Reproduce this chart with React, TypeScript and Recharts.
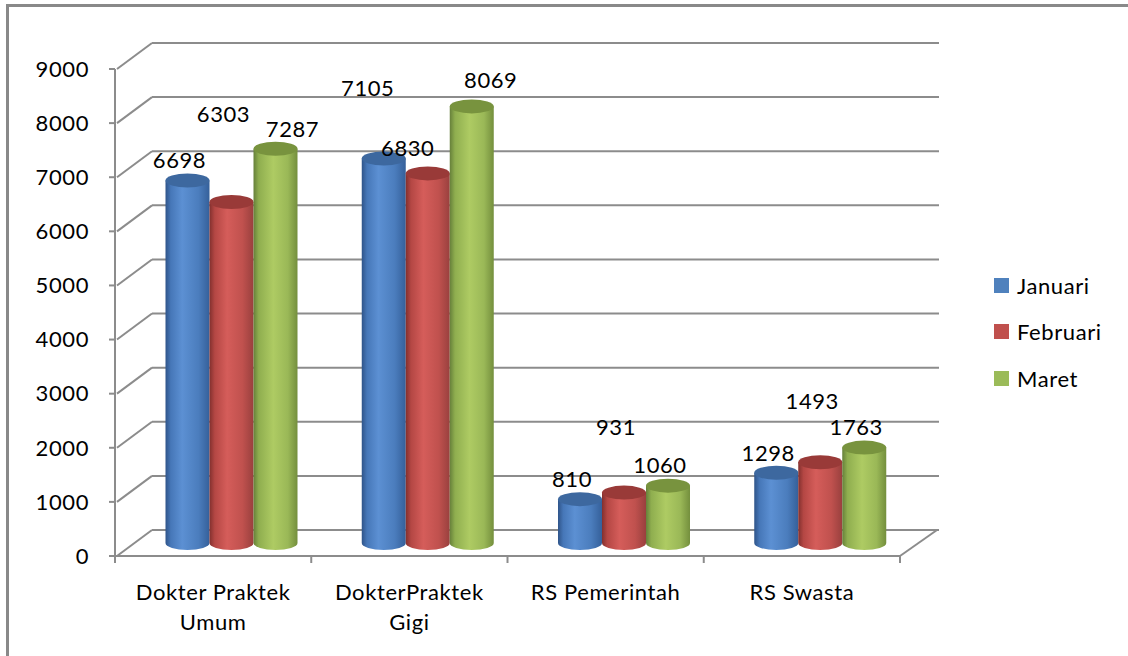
import React from "react";
import { BarChart, Bar, XAxis, YAxis, CartesianGrid, LabelList, Legend } from "recharts";

const CATEGORIES = ["Dokter Praktek Umum", "DokterPraktek Gigi", "RS Pemerintah", "RS Swasta"];
const CATEGORY_LINES = [["Dokter Praktek", "Umum"], ["DokterPraktek", "Gigi"], ["RS Pemerintah"], ["RS Swasta"]];
const JANUARI = [6698, 7105, 810, 1298];
const FEBRUARI = [6303, 6830, 931, 1493];
const MARET = [7287, 8069, 1060, 1763];
const Y_TICKS = [0, 1000, 2000, 3000, 4000, 5000, 6000, 7000, 8000, 9000];

// extra label shifts (px) for labels Excel pushed off their default spot
const LABEL_SHIFT: Record<string, [number, number][]> = {
  Januari: [[0, 0], [-8, -50], [0, 0], [0, 0]],
  Februari: [[0, -68], [-12, -5], [0, -45], [0, -41]],
  Maret: [[25, 0], [27, -6], [0, 0], [0, 0]],
};

const data = CATEGORIES.map((name, i) => ({
  name,
  Januari: JANUARI[i],
  Februari: FEBRUARI[i],
  Maret: MARET[i],
}));

const W = 1128;
const H = 656;
const PLOT_LEFT = 115;
const PLOT_RIGHT = 900;
const PLOT_TOP = 69;
const PLOT_BOTTOM = 556;
const BAND = (PLOT_RIGHT - PLOT_LEFT) / CATEGORIES.length;

// back wall offset of the 3D box; cylinders stand half way in
const DEPTH_X = 37;
const DEPTH_Y = -26;
const MID_X = DEPTH_X / 2;
const MID_Y = DEPTH_Y / 2;

const FONT = "Lato, 'Open Sans', sans-serif";
const FONT_SIZE = 22;
const SPACING = 0.6;
const GRID = "#8c8c8c";

const TONES: Record<string, { legend: string; top: string; stops: [number, string][] }> = {
  blue: {
    legend: "#4f81bd",
    top: "#3d689f",
    stops: [[0, "#2f5489"], [0.12, "#4677b8"], [0.38, "#5c90d3"], [0.75, "#4b7dbd"], [1, "#35609a"]],
  },
  red: {
    legend: "#c0504d",
    top: "#993a38",
    stops: [[0, "#82302e"], [0.12, "#b44744"], [0.4, "#d55d5a"], [0.75, "#c0514e"], [1, "#99403e"]],
  },
  green: {
    legend: "#9bbb59",
    top: "#78933e",
    stops: [[0, "#66803a"], [0.12, "#8fae4f"], [0.45, "#aecb63"], [0.78, "#9ab857"], [1, "#748f3d"]],
  },
};

const SERIES = [
  { key: "Januari", tone: "blue" },
  { key: "Februari", tone: "red" },
  { key: "Maret", tone: "green" },
];

const Cylinder = (props: any) => {
  const { x, y, width, height, tone } = props;
  if (width == null || height == null) return null;
  const cx = x + MID_X + width / 2;
  const rx = width / 2;
  const ry = 7;
  const top = y + MID_Y;
  const bottom = y + height + MID_Y;
  const left = x + MID_X;
  const body = `M${left},${top} L${left},${bottom} A${rx},${ry} 0 0 0 ${left + width},${bottom} L${left + width},${top} Z`;
  return (
    <g>
      <path d={body} fill={`url(#cyl-${tone})`} />
      <ellipse cx={cx} cy={top} rx={rx} ry={ry} fill={TONES[tone].top} />
    </g>
  );
};

const makeLabel = (series: string) => (props: any) => {
  const { x, y, width, value, index } = props;
  const [sx, sy] = LABEL_SHIFT[series][index] || [0, 0];
  return (
    <text
      x={x + width / 2 + MID_X - 8 + sx}
      y={y + MID_Y - 20 + sy}
      dy="0.355em"
      textAnchor="middle"
      fontFamily={FONT}
      fontSize={FONT_SIZE}
      letterSpacing={SPACING}
      fill="#000"
    >
      {value}
    </text>
  );
};

// back wall gridline plus the slanted line on the left wall (and floor edge)
const WallLine = (props: any) => {
  const { x1, y1, x2, index } = props;
  return (
    <g key={`wall-${index}`}>
      <line x1={x1 + 2} y1={y1} x2={x1 + DEPTH_X} y2={y1 + DEPTH_Y} stroke={GRID} strokeWidth={2} />
      <line x1={x1 + DEPTH_X} y1={y1 + DEPTH_Y} x2={x2 + DEPTH_X + 2} y2={y1 + DEPTH_Y} stroke={GRID} strokeWidth={2} />
      {Math.abs(y1 - PLOT_BOTTOM) < 1 && (
        <line x1={x2} y1={y1} x2={x2 + DEPTH_X} y2={y1 + DEPTH_Y} stroke={GRID} strokeWidth={2} />
      )}
    </g>
  );
};

const CategoryTick = (props: any) => {
  const { x, index } = props;
  const lines = CATEGORY_LINES[index] || [];
  return (
    <g>
      <line x1={x - BAND / 2} y1={PLOT_BOTTOM} x2={x - BAND / 2} y2={PLOT_BOTTOM + 7} stroke={GRID} strokeWidth={2} />
      {index === CATEGORIES.length - 1 && (
        <line x1={x + BAND / 2} y1={PLOT_BOTTOM} x2={x + BAND / 2} y2={PLOT_BOTTOM + 7} stroke={GRID} strokeWidth={2} />
      )}
      <text
        x={x}
        y={PLOT_BOTTOM + 44}
        textAnchor="middle"
        fontFamily={FONT}
        fontSize={FONT_SIZE}
        letterSpacing={SPACING}
        fill="#000"
      >
        {lines.map((line, i) => (
          <tspan key={i} x={x} dy={i === 0 ? 0 : 30}>
            {line}
          </tspan>
        ))}
      </text>
    </g>
  );
};

const LegendList = (props: any) => {
  const items = [...(props.payload || [])].sort(
    (a: any, b: any) =>
      SERIES.findIndex((s) => s.key === a.value) - SERIES.findIndex((s) => s.key === b.value)
  );
  return (
    <div style={{ fontFamily: FONT, fontSize: FONT_SIZE, letterSpacing: SPACING, color: "#000" }}>
      {items.map((item: any) => (
        <div key={item.value} style={{ display: "flex", alignItems: "center", height: 46.5 }}>
          <span style={{ width: 15, height: 15, background: item.color, marginRight: 8 }} />
          <span>{item.value}</span>
        </div>
      ))}
    </div>
  );
};

export default function App() {
  return (
    <div style={{ position: "absolute", left: 0, top: 0, width: W, height: H, overflow: "hidden", background: "#fff" }}>
      <div
        style={{
          position: "absolute",
          left: 6,
          top: 4,
          width: W + 20,
          height: H + 20,
          border: "3px solid #898989",
        }}
      />
      <BarChart
        width={W}
        height={H}
        data={data}
        margin={{ top: PLOT_TOP, right: W - PLOT_RIGHT, bottom: H - PLOT_BOTTOM - 30, left: PLOT_LEFT - 60 }}
        barGap={0}
        barSize={44}
        style={{ position: "absolute", left: 0, top: 0 }}
      >
        <defs>
          {Object.entries(TONES).map(([name, t]) => (
            <linearGradient key={name} id={`cyl-${name}`} x1="0" y1="0" x2="1" y2="0">
              {t.stops.map(([o, c]) => (
                <stop key={o} offset={o} stopColor={c} />
              ))}
            </linearGradient>
          ))}
        </defs>
        <CartesianGrid vertical={false} horizontal={WallLine} />
        <XAxis
          dataKey="name"
          height={30}
          interval={0}
          tickLine={false}
          axisLine={{ stroke: GRID, strokeWidth: 2 }}
          tick={CategoryTick}
        />
        <YAxis
          width={60}
          domain={[0, 9000]}
          ticks={Y_TICKS}
          interval={0}
          tickSize={6}
          tickMargin={20}
          tickLine={{ stroke: GRID, strokeWidth: 2 }}
          axisLine={{ stroke: GRID, strokeWidth: 2 }}
          tick={{ fill: "#000", fontSize: FONT_SIZE, fontFamily: FONT, letterSpacing: SPACING }}
        />
        <Legend
          layout="vertical"
          align="center"
          verticalAlign="middle"
          wrapperStyle={{ left: 994, top: 262, width: 130 }}
          content={LegendList}
        />
        {SERIES.map((s) => (
          <Bar
            key={s.key}
            dataKey={s.key}
            fill={TONES[s.tone].legend}
            isAnimationActive={false}
            shape={(p: any) => <Cylinder {...p} tone={s.tone} />}
          >
            <LabelList dataKey={s.key} content={makeLabel(s.key)} />
          </Bar>
        ))}
      </BarChart>
    </div>
  );
}
